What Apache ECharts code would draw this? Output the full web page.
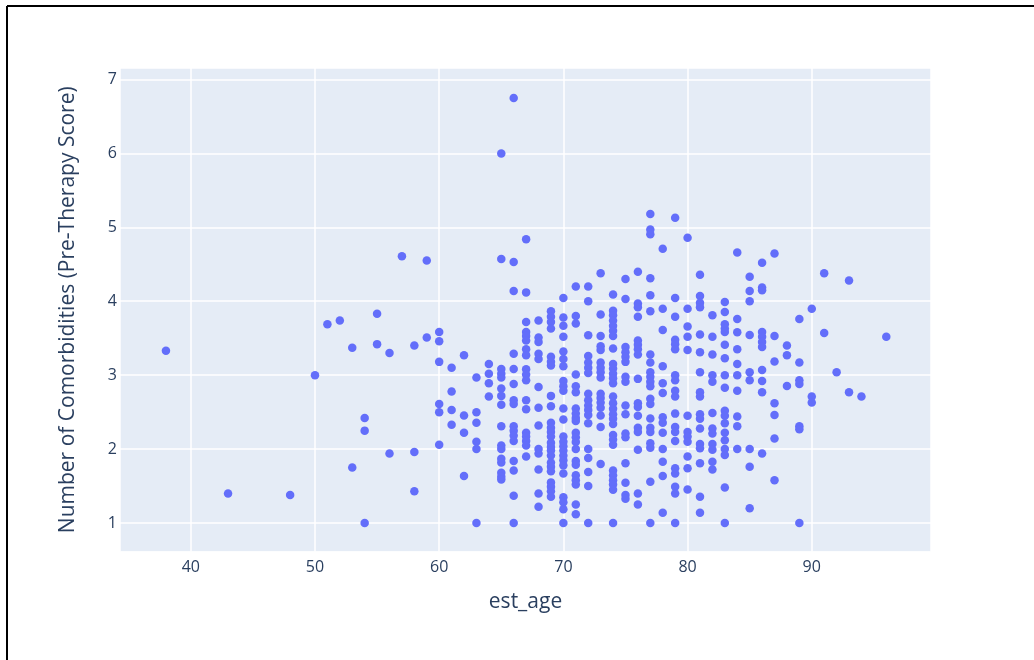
<!DOCTYPE html>
<html>
<head>
<meta charset="utf-8">
<script src="https://cdn.jsdelivr.net/npm/echarts@6/dist/echarts.min.js"></script>
<style>
  html, body { margin: 0; padding: 0; background: #fff; }
  #chart { width: 1034px; height: 660px; }
</style>
</head>
<body>
<div id="chart"></div>
<script>
// ---- Data ----
const xTitle = 'est_age';
const yTitle = 'Number of Comorbidities (Pre-Therapy Score)';

const ages = [38, 43, 48, 50, 51, 52, 53, 54, 55, 56, 57, 58, 59, 60, 61, 62, 63, 64, 65, 66, 67, 68, 69, 70, 71, 72, 73, 74, 75, 76, 77, 78, 79, 80, 81, 82, 83, 84, 85, 86, 87, 88, 89, 90, 91, 92, 93, 94, 96];

const scoresByAge = [
  [3.33],
  [1.40],
  [1.38],
  [3.0],
  [3.69],
  [3.74],
  [3.37, 1.75],
  [2.42, 2.25, 1.0],
  [3.83, 3.42],
  [3.30, 1.94],
  [4.61],
  [3.40, 1.96, 1.43],
  [4.55, 3.51],
  [3.585, 3.46, 3.18, 2.61, 2.50, 2.06],
  [3.10, 2.78, 2.53, 2.33],
  [3.27, 2.455, 2.22, 1.635],
  [2.97, 2.50, 2.355, 2.10, 2.0, 1.0],
  [3.15, 3.02, 2.89, 2.71],
  [6.0, 4.57, 3.085, 3.02, 2.97, 2.82, 2.72, 2.60, 2.31, 2.05, 2.0, 1.87, 1.82, 1.68, 1.625, 1.59],
  [6.75, 4.53, 4.14, 3.29, 3.085, 2.88, 2.66, 2.61, 2.31, 2.25, 2.185, 2.11, 1.84, 1.71, 1.37, 1.0],
  [4.84, 4.12, 3.72, 3.585, 3.53, 3.47, 3.35, 3.27, 3.08, 3.01, 2.93, 2.66, 2.54, 2.22, 2.17, 2.11, 2.05, 1.90],
  [3.74, 3.51, 3.45, 3.29, 3.22, 2.84, 2.56, 2.32, 2.0, 1.94, 1.725, 1.40, 1.22],
  [3.865, 3.79, 3.72, 3.63, 3.25, 3.18, 3.13, 2.72, 2.58, 2.355, 2.29, 2.23, 2.17, 2.085, 2.03, 1.98, 1.915, 1.82, 1.76, 1.70, 1.55, 1.49, 1.43, 1.355],
  [4.045, 3.78, 3.67, 3.52, 3.32, 3.22, 3.12, 2.92, 2.85, 2.79, 2.55, 2.40, 2.17, 2.10, 2.04, 1.98, 1.915, 1.85, 1.78, 1.67, 1.35, 1.28, 1.185, 1.0],
  [4.20, 3.80, 3.70, 3.01, 2.85, 2.77, 2.55, 2.48, 2.42, 2.38, 2.22, 2.16, 2.095, 2.0, 1.84, 1.79, 1.645, 1.58, 1.52, 1.25, 1.12],
  [4.20, 4.00, 3.54, 3.26, 3.17, 3.10, 3.03, 2.75, 2.66, 2.59, 2.53, 2.46, 2.35, 2.0, 1.88, 1.69, 1.50, 1.0],
  [4.38, 3.82, 3.53, 3.39, 3.34, 3.17, 3.10, 3.04, 2.97, 2.75, 2.69, 2.63, 2.56, 2.455, 2.30, 1.80],
  [4.09, 3.87, 3.81, 3.74, 3.67, 3.60, 3.53, 3.36, 3.15, 3.09, 3.02, 2.96, 2.89, 2.71, 2.62, 2.545, 2.47, 2.41, 2.34, 2.19, 2.13, 2.06, 1.71, 1.645, 1.58, 1.52, 1.45, 1.0],
  [4.30, 4.03, 3.38, 3.31, 3.25, 3.18, 2.98, 2.91, 2.59, 2.47, 2.21, 2.16, 1.81, 1.545, 1.38, 1.33],
  [4.40, 3.97, 3.92, 3.79, 3.47, 3.41, 3.35, 3.28, 2.95, 2.62, 2.57, 2.45, 2.29, 2.23, 1.99, 1.40, 1.25],
  [5.18, 4.97, 4.905, 4.31, 4.08, 3.865, 3.28, 3.17, 3.04, 2.98, 2.91, 2.85, 2.68, 2.61, 2.415, 2.29, 2.23, 2.08, 2.02, 1.56, 1.0],
  [4.71, 3.90, 3.61, 3.12, 2.89, 2.76, 2.43, 2.355, 2.22, 2.0, 1.83, 1.635, 1.14],
  [5.13, 4.045, 3.79, 3.48, 3.42, 3.35, 3.0, 2.93, 2.79, 2.71, 2.48, 2.30, 2.23, 2.11, 1.74, 1.67, 1.49, 1.40, 1.0],
  [4.86, 3.90, 3.66, 3.52, 3.34, 2.45, 2.23, 2.17, 2.10, 1.90, 1.74, 1.455],
  [4.36, 4.07, 3.98, 3.92, 3.55, 3.31, 3.04, 2.77, 2.71, 2.47, 2.41, 2.28, 2.07, 2.01, 1.81, 1.355, 1.14],
  [3.81, 3.52, 3.28, 3.0, 2.91, 2.49, 2.28, 2.21, 2.07, 1.99, 1.83, 1.725],
  [3.99, 3.855, 3.69, 3.63, 3.585, 3.41, 3.23, 3.0, 2.83, 2.52, 2.45, 2.35, 2.22, 2.12, 2.0, 1.92, 1.48, 1.0],
  [4.66, 3.76, 3.58, 3.35, 3.15, 3.0, 2.79, 2.44, 2.31, 2.0],
  [4.33, 4.14, 4.0, 3.545, 3.04, 2.93, 2.0, 1.76, 1.20],
  [4.52, 4.185, 4.15, 3.585, 3.52, 3.45, 3.38, 3.07, 2.92, 2.77, 1.94],
  [4.645, 3.53, 3.185, 2.62, 2.46, 2.145, 1.58],
  [3.40, 3.27, 2.855],
  [3.76, 3.17, 2.93, 2.88, 2.31, 2.27, 1.0],
  [3.90, 2.71, 2.63],
  [4.38, 3.57],
  [3.04],
  [4.28, 2.77],
  [2.71],
  [3.52]
];

const xRange = [34.3, 99.6];
const yRange = [0.615, 7.155];

// ---- Build points ----
const points = [];
ages.forEach((a, i) => scoresByAge[i].forEach(v => points.push([a, v])));

const textColor = '#2a3f5f';
const font = '"Open Sans", "Liberation Sans", sans-serif';

const chart = echarts.init(document.getElementById('chart'), null, { renderer: 'canvas' });
chart.setOption({
  backgroundColor: '#ffffff',
  animation: false,
  grid: {
    left: 120, right: 103, top: 68, bottom: 108.5,
    show: true, backgroundColor: '#E5ECF6', borderWidth: 0
  },
  xAxis: {
    type: 'value',
    min: xRange[0], max: xRange[1],
    name: xTitle, nameLocation: 'middle', nameGap: 40,
    nameTextStyle: { color: textColor, fontSize: 21, fontFamily: font },
    axisLine: { show: false }, axisTick: { show: false },
    axisLabel: { color: textColor, fontSize: 16, fontFamily: font, margin: 8, showMinLabel: false, showMaxLabel: false },
    splitLine: { show: true, lineStyle: { color: '#ffffff', width: 1.5 } }
  },
  yAxis: {
    type: 'value',
    min: yRange[0], max: yRange[1],
    name: yTitle, nameLocation: 'middle', nameGap: 41, nameRotate: 90,
    nameTextStyle: { color: textColor, fontSize: 21, fontFamily: font },
    axisLine: { show: false }, axisTick: { show: false },
    axisLabel: { color: textColor, fontSize: 16, fontFamily: font, margin: 3, showMinLabel: false, showMaxLabel: false },
    splitLine: { show: true, lineStyle: { color: '#ffffff', width: 1.5 } }
  },
  graphic: [
    { type: 'line', shape: { x1: 7, y1: 6, x2: 1034, y2: 6 }, style: { stroke: '#000', lineWidth: 2 } },
    { type: 'line', shape: { x1: 7, y1: 6, x2: 7, y2: 660 }, style: { stroke: '#000', lineWidth: 2 } }
  ],
  series: [{
    type: 'scatter',
    data: points,
    symbolSize: 8.5,
    itemStyle: { color: '#636EFA', opacity: 1 }
  }]
});
</script>
</body>
</html>
